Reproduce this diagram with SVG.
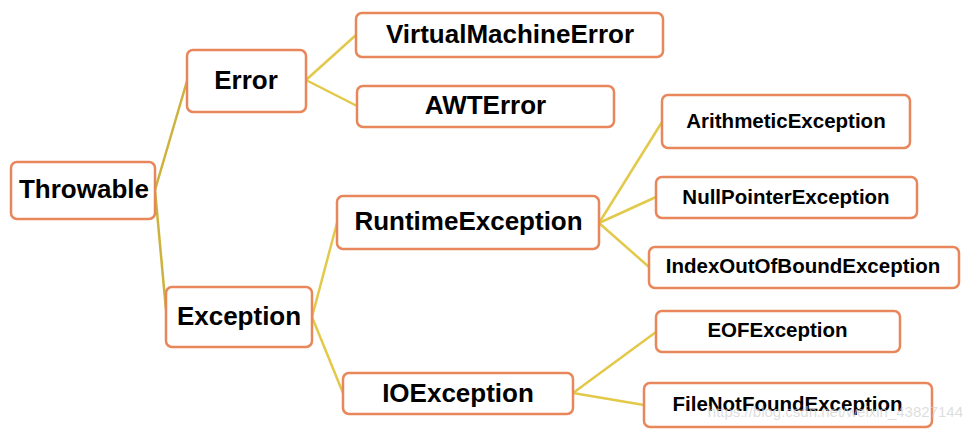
<svg xmlns="http://www.w3.org/2000/svg" width="972" height="429" viewBox="0 0 972 429">
<style>
.box{fill:#fff;stroke:#e8875b;stroke-width:2.5}
.big{font-family:"Liberation Sans",Arial,sans-serif;font-weight:bold;font-size:26px;fill:#000;text-anchor:middle}
.sm{font-family:"Liberation Sans",Arial,sans-serif;font-weight:bold;font-size:20.5px;fill:#000;text-anchor:middle}
.l1{stroke:#cdb33e;stroke-width:2.5;fill:none}
.l2{stroke:#e3c94a;stroke-width:2.5;fill:none}
.wm{font-family:"Liberation Sans",Arial,sans-serif;font-size:15px;fill:#cfcfcf;fill-opacity:0.7;text-anchor:end}
</style>
<rect width="972" height="429" fill="#fff"/>
<g id="connectors">
<line class="l1" x1="155" y1="190" x2="187" y2="81"/>
<line class="l1" x1="155" y1="190" x2="166" y2="310"/>
<line class="l2" x1="306" y1="80" x2="356" y2="35"/>
<line class="l2" x1="306" y1="80" x2="357" y2="106"/>
<line class="l2" x1="312" y1="317" x2="337" y2="223"/>
<line class="l2" x1="312" y1="317" x2="343" y2="393"/>
<line class="l2" x1="599" y1="223" x2="662" y2="122"/>
<line class="l2" x1="599" y1="223" x2="656" y2="197"/>
<line class="l2" x1="599" y1="223" x2="649" y2="267"/>
<line class="l2" x1="573" y1="393" x2="656" y2="332"/>
<line class="l2" x1="573" y1="393" x2="644" y2="405"/>
</g>
<g id="throwable"><rect class="box" x="11" y="162" width="144" height="57" rx="6"/><text class="big" x="84" y="198">Throwable</text></g>
<g id="error"><rect class="box" x="187" y="50" width="119" height="62" rx="6"/><text class="big" x="246" y="89">Error</text></g>
<g id="exception"><rect class="box" x="166" y="287" width="146" height="60" rx="6"/><text class="big" x="239" y="325">Exception</text></g>
<g id="vme"><rect class="box" x="356" y="13" width="307" height="44" rx="6"/><text class="big" x="510" y="43">VirtualMachineError</text></g>
<g id="awt"><rect class="box" x="357" y="86" width="257" height="41" rx="6"/><text class="big" x="485.5" y="114">AWTError</text></g>
<g id="runtime"><rect class="box" x="337" y="196" width="262" height="53" rx="6"/><text class="big" x="468.5" y="230">RuntimeException</text></g>
<g id="io"><rect class="box" x="343" y="373" width="230" height="41" rx="6"/><text class="big" x="458" y="402">IOException</text></g>
<g id="arith"><rect class="box" x="662" y="95" width="248" height="53" rx="6"/><text class="sm" x="786" y="128">ArithmeticException</text></g>
<g id="nullptr"><rect class="box" x="656" y="177" width="261" height="41" rx="6"/><text class="sm" x="786" y="204">NullPointerException</text></g>
<g id="index"><rect class="box" x="649" y="247" width="310" height="41" rx="6"/><text class="sm" x="803" y="273">IndexOutOfBoundException</text></g>
<g id="eof"><rect class="box" x="656" y="311" width="244" height="41" rx="6"/><text class="sm" x="777.5" y="337">EOFException</text></g>
<g id="fnf"><rect class="box" x="644" y="383" width="288" height="44" rx="6"/><text class="sm" x="787.5" y="411">FileNotFoundException</text></g>
<text class="wm" x="963" y="417">https://blog.csdn.net/weixin_43827144</text>
</svg>
